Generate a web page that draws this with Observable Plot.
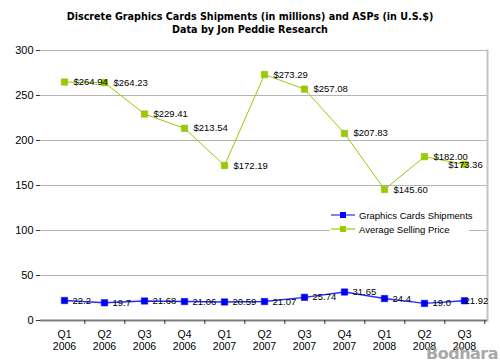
<!DOCTYPE html>
<html>
<head>
<meta charset="utf-8">
<script src="https://cdn.jsdelivr.net/npm/d3@7"></script>
<script src="https://cdn.jsdelivr.net/npm/@observablehq/plot@0.6"></script>
<style>
  html, body { margin: 0; padding: 0; background: #fff; }
  #wrap { position: relative; width: 500px; height: 363px; overflow: hidden; }
  #title { height: 40px; box-sizing: border-box; padding-top: 10px; text-align: center;
    font: bold 9.6px "DejaVu Sans", sans-serif; line-height: 13px; color: #000; }
  #legend { position: absolute; left: 330px; top: 207px; width: 139px; height: 29px; background: #fff;
    font: 9.5px "Liberation Sans", Arial, sans-serif; color: #000; }
  #legend .row { position: absolute; left: 0; height: 14px; display: flex; align-items: center; white-space: nowrap; }
  #legend svg { margin-right: 3px; flex: none; }
  #wm { position: absolute; right: 2px; bottom: 0px; font: bold 16px "DejaVu Sans", sans-serif; color: #9a9a9a; opacity: 0.85; letter-spacing: -0.5px; }
</style>
</head>
<body>
<div id="wrap">
  <div id="title">Discrete Graphics Cards Shipments (in millions) and ASPs (in U.S.$)<br>Data by Jon Peddie Research</div>
  <div id="chart"></div>
  <div id="legend"></div>
  <div id="wm">Bodhara</div>
</div>
<script>
const quarters = ["Q1\n2006","Q2\n2006","Q3\n2006","Q4\n2006","Q1\n2007","Q2\n2007","Q3\n2007","Q4\n2007","Q1\n2008","Q2\n2008","Q3\n2008"];
const shipments = [22.2, 19.7, 21.68, 21.06, 20.59, 21.07, 25.74, 31.65, 24.4, 19.0, 21.92];
const shipmentLabels = ["22.2","19.7","21.68","21.06","20.59","21.07","25.74","31.65","24.4","19.0","21.92"];
const asp = [264.94, 264.23, 229.41, 213.54, 172.19, 273.29, 257.08, 207.83, 145.60, 182.00, 173.36];
const yTicks = [0, 50, 100, 150, 200, 250, 300];
const seriesNames = ["Graphics Cards Shipments", "Average Selling Price"];
const colors = { ship: "#0000ff", shipLine: "#2a2aff", asp: "#99cc00", aspLine: "#99cc00" };

const last = quarters.length - 1;
const shipData = quarters.map((q, i) => ({q, v: shipments[i], label: shipmentLabels[i], last: i === last}));
const aspData = quarters.map((q, i) => ({q, v: asp[i], label: "$" + asp[i].toFixed(2), last: i === last}));

const W = 500, H = 323, mL = 40, mR = 13, mT = 10, mB = 43;
const halfStep = (W - mL - mR) / quarters.length / 2;

const chart = Plot.plot({
  width: W, height: H,
  marginLeft: mL, marginRight: mR, marginTop: mT, marginBottom: mB,
  style: { background: "#fff", fontFamily: "Liberation Sans, Arial, sans-serif", color: "#000" },
  x: { type: "point", domain: quarters, padding: 0.5 },
  y: { domain: [0, 300] },
  marks: [
    Plot.gridY(yTicks, { stroke: "#b4b4b4", strokeOpacity: 1, strokeWidth: 1 }),
    Plot.frame({ anchor: "right", stroke: "#c4c4c4", strokeWidth: 2 }),
    Plot.axisY(yTicks, { tickSize: 4, tickPadding: 3, fontSize: 11, stroke: "#333", label: null }),
    Plot.ruleX([0], { frameAnchor: "left", stroke: "#808080", strokeWidth: 2 }),
    Plot.ruleY([0], { stroke: "#808080", strokeWidth: 2 }),
    Plot.axisX(quarters, { tickSize: 4, dx: halfStep, text: null, stroke: "#333", label: null }),
    Plot.axisX(quarters, { tickSize: 0, tickPadding: 9, fontSize: 10.5, lineHeight: 1.15, label: null }),
    Plot.line(aspData, { x: "q", y: "v", stroke: colors.aspLine, strokeWidth: 1 }),
    Plot.dot(aspData, { x: "q", y: "v", symbol: "square", r: 3.6, fill: colors.asp, stroke: "#86b300", strokeWidth: 0.5 }),
    Plot.text(aspData, { filter: d => !d.last, x: "q", y: "v", text: "label", dx: 9, textAnchor: "start", fontSize: 9.5, fill: "#000" }),
    Plot.text(aspData, { filter: d => d.last, x: "q", y: "v", text: "label", dx: 1, textAnchor: "middle", fontSize: 9.5, fill: "#000" }),
    Plot.line(shipData, { x: "q", y: "v", stroke: colors.shipLine, strokeWidth: 1.4 }),
    Plot.dot(shipData, { x: "q", y: "v", symbol: "square", r: 3.6, fill: colors.ship, stroke: "#0000cc", strokeWidth: 0.5 }),
    Plot.text(shipData, { filter: d => !d.last, x: "q", y: "v", text: "label", dx: 8, textAnchor: "start", fontSize: 9.5, fill: "#000" }),
    Plot.text(shipData, { filter: d => d.last, x: "q", y: "v", text: "label", dx: 0, textAnchor: "start", fontSize: 9.5, fill: "#000" })
  ]
});
document.getElementById("chart").appendChild(chart);

// legend
const legend = document.getElementById("legend");
const legendColors = [[colors.shipLine, colors.ship], [colors.aspLine, colors.asp]];
seriesNames.forEach((name, i) => {
  const row = document.createElement("div");
  row.className = "row";
  row.style.top = (1 + i * 14) + "px";
  row.innerHTML = `<svg width="26" height="10"><line x1="1" x2="25" y1="5" y2="5" stroke="${legendColors[i][0]}" stroke-width="1.2"/><rect x="10" y="2" width="6" height="6" fill="${legendColors[i][1]}"/></svg><span>${name}</span>`;
  legend.appendChild(row);
});
</script>
</body>
</html>
